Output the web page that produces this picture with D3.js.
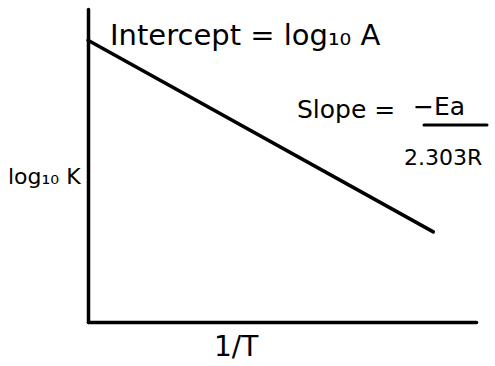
<!DOCTYPE html>
<html>
<head>
<meta charset="utf-8">
<script src="https://cdn.jsdelivr.net/npm/d3@7"></script>
<style>
body{margin:0;background:#fff}
text{font-family:"Comic Sans MS","DejaVu Sans",sans-serif;fill:#000}
</style>
</head>
<body>
<div class="arrhenius"></div>
<script>
// 1/T values and the matching log10 K values of the straight line
var invT = [0, 0.89]
var logK = [0.90, 0.288]

var width = 495
var height = 366
var svg = d3.select(".arrhenius").append("svg").attr("width",width).attr("height",height)

var x = d3.scaleLinear().domain([0,1]).range([88,476])
var y = d3.scaleLinear().domain([0,1]).range([322,9])

// axes without ticks, just the two lines
svg.append("g").attr("transform","translate(0,"+y(0)+")")
	.call(d3.axisBottom(x).ticks(0).tickSizeOuter(0))
	.select(".domain").attr("stroke","#000").attr("stroke-width",3.5).attr("stroke-linecap","round")
svg.append("g").attr("transform","translate("+x(0)+",0)")
	.call(d3.axisLeft(y).ticks(0).tickSizeOuter(0))
	.select(".domain").attr("stroke","#000").attr("stroke-width",3.5).attr("stroke-linecap","round")

var line = d3.line().x(function(d){return x(d[0])}).y(function(d){return y(d[1])})
svg.append("path")
	.datum(d3.zip(invT,logK))
	.attr("d",line)
	.attr("fill","none")
	.attr("stroke","#000")
	.attr("stroke-width",3.5)
	.attr("stroke-linecap","round")

// labels
svg.append("text").attr("x",110).attr("y",45).style("font-size","29px").text("Intercept = log₁₀ A")
svg.append("text").attr("x",297).attr("y",118).style("font-size","25px").text("Slope =")
svg.append("text").attr("x",413).attr("y",115).style("font-size","25px").text("−Ea")
svg.append("line").attr("x1",424).attr("x2",487).attr("y1",125).attr("y2",125)
	.attr("stroke","#000").attr("stroke-width",3).attr("stroke-linecap","round")
svg.append("text").attr("x",404).attr("y",165).style("font-size","22px").text("2.303R")
svg.append("text").attr("x",8).attr("y",184).style("font-size","22px").text("log₁₀ K")
svg.append("text").attr("x",214).attr("y",356).style("font-size","28px").text("1/T")
</script>
</body>
</html>
